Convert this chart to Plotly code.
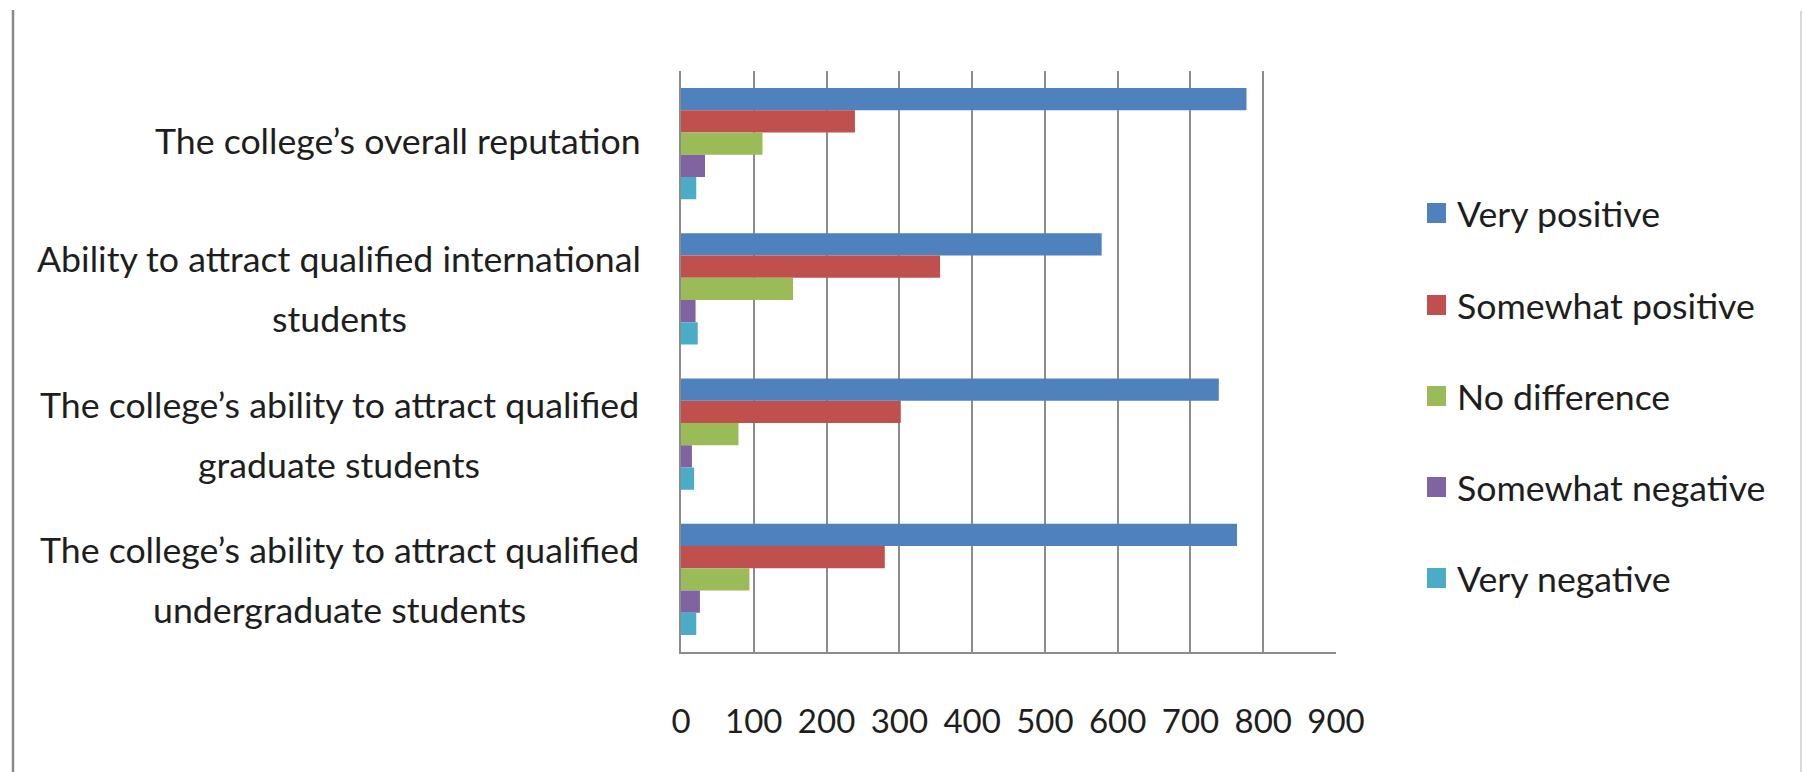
import plotly.graph_objects as go

# Survey items (top to bottom) and response counts per item
categories = [
    "The college’s overall reputation",
    "Ability to attract qualified international<br>students",
    "The college’s ability to attract qualified<br>graduate students",
    "The college’s ability to attract qualified<br>undergraduate students",
]
very_positive = [777, 578, 739, 764]
somewhat_positive = [239, 356, 302, 280]
no_difference = [112, 154, 79, 94]
somewhat_negative = [33, 20, 15, 26]
very_negative = [21, 23, 18, 21]

series_names = ["Very positive", "Somewhat positive", "No difference",
                "Somewhat negative", "Very negative"]
series_values = [very_positive, somewhat_positive, no_difference,
                 somewhat_negative, very_negative]
series_colors = ["#4F81BD", "#C0504D", "#9BBB59", "#8064A2", "#4BACC6"]

x_ticks = [0, 100, 200, 300, 400, 500, 600, 700, 800, 900]

W, H = 1803, 772
L, R, T, B = 681, W - 1336, 71, H - 652
PW, PH = W - L - R, H - T - B

FONT = "Lato, Liberation Sans, sans-serif"
TEXT = "#1e1e1e"
FS = 35.7
LINE_GAP = 60          # distance between the lines of a wrapped label (px)
LABEL_RIGHT = -38      # right edge of single-line labels, relative to axis
LABEL_CENTER = -342    # centre of wrapped labels, relative to axis
SINGLE_LIFT = 3        # small upward nudge for one-line labels


def px(x):
    return (x - L) / PW


def py(y):
    return 1 - (y - T) / PH


fig = go.Figure()
for name, vals, col in zip(series_names, series_values, series_colors):
    fig.add_trace(go.Bar(
        y=categories, x=vals, name=name, orientation="h",
        marker=dict(color=col, line=dict(width=0)),
        showlegend=False,
    ))

# Category labels; wrapped labels get one centred annotation per line
annotations = []
for c in categories:
    lines = c.split("<br>")
    n = len(lines)
    for i, line in enumerate(lines):
        if n == 1:
            anchor, xs, ys = "right", LABEL_RIGHT, SINGLE_LIFT
        else:
            anchor, xs, ys = "center", LABEL_CENTER, ((n - 1) / 2 - i) * LINE_GAP
        annotations.append(dict(
            x=0, y=c, xref="x", yref="y", text=line, showarrow=False,
            xanchor=anchor, yanchor="middle", xshift=xs, yshift=ys,
            font=dict(family=FONT, size=FS, color=TEXT),
        ))

# Legend drawn as swatches + labels
shapes = []
leg_y = [213, 305, 396, 487, 578]
for name, col, yc in zip(series_names, series_colors, leg_y):
    shapes.append(dict(
        type="rect", xref="paper", yref="paper",
        x0=px(1427), x1=px(1446), y0=py(yc + 10), y1=py(yc - 10),
        fillcolor=col, line=dict(width=0),
    ))
    annotations.append(dict(
        x=px(1455), y=py(yc), xref="paper", yref="paper", text=name,
        showarrow=False, xanchor="left", yanchor="middle",
        font=dict(family=FONT, size=FS, color=TEXT),
    ))

# Outer frame edges
shapes.append(dict(type="line", xref="paper", yref="paper",
                   x0=px(13), x1=px(13), y0=py(10), y1=py(772),
                   line=dict(color="#8a8a8a", width=2.5)))
shapes.append(dict(type="line", xref="paper", yref="paper",
                   x0=px(1801), x1=px(1801), y0=py(11), y1=py(772),
                   line=dict(color="#d9d9d9", width=2)))

fig.update_layout(
    width=W, height=H,
    margin=dict(l=L, r=R, t=T, b=B, pad=0),
    paper_bgcolor="white", plot_bgcolor="white",
    barmode="group", bargap=0.234, bargroupgap=0,
    showlegend=False,
    annotations=annotations, shapes=shapes,
    xaxis=dict(
        range=[0, 900], tickvals=x_ticks, ticktext=[str(v) for v in x_ticks],
        showgrid=True, gridcolor="#8c8c8c", gridwidth=1.5,
        showline=True, linecolor="#8c8c8c", linewidth=1.5,
        zeroline=False, ticks="", ticklabelstandoff=40,
        tickfont=dict(family=FONT, size=33, color=TEXT),
        fixedrange=True,
    ),
    yaxis=dict(
        type="category", categoryorder="array", categoryarray=categories,
        range=[3.5, -0.5], showticklabels=False, showgrid=False,
        showline=True, linecolor="#8c8c8c", linewidth=1.5,
        zeroline=False, ticks="", fixedrange=True,
    ),
)

fig.write_html("out.html")
